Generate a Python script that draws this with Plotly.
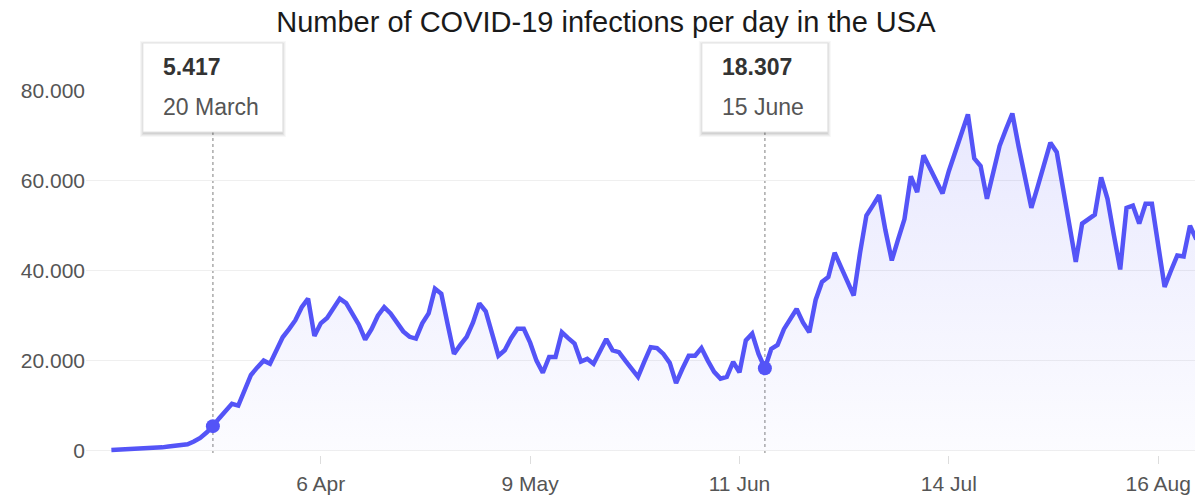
import plotly.graph_objects as go
import pandas as pd

# ---------------- data ----------------
start_date = "2020-03-04"
end_date = "2020-08-22"
cases = [
    # March 4 - 31
    100, 150, 200, 250, 300, 400, 500, 600, 700, 900, 1000, 1100, 1400, 2000,
    2800, 4000, 5417, 7200, 9000, 10400, 10000, 13500, 16800, 18500, 20000,
    19300, 22500, 25200,
    # April
    27000, 29000, 31900, 33800, 25500, 28300, 29500, 31800, 33800, 32800,
    30500, 28000, 24700, 27000, 30000, 31900, 30500, 28300, 26500, 25300,
    24900, 28300, 30500, 36000, 34900, 28100, 21500, 23500, 25300, 28500,
    # May
    32700, 31000, 26000, 21100, 22300, 25000, 27100, 27100, 24000, 20000,
    17300, 20800, 20800, 26300, 25000, 23800, 19800, 20400, 19300, 22000,
    24800, 22300, 21900, 20000, 18000, 16400, 19800, 23000, 22800, 21500,
    19500,
    # June
    15000, 18200, 21100, 21100, 22800, 20000, 17500, 16000, 16400, 19700,
    17400, 24500, 26000, 21500, 18307, 22600, 23500, 27000, 29500, 31500,
    28500, 26300, 33500, 37500, 38600, 44000, 40800, 37600, 34500, 44000,
    # July
    52300, 54500, 56800, 49000, 42300, 47000, 51500, 61000, 57500, 65700,
    63000, 60000, 57200, 62200, 66600, 71000, 74800, 65000, 63300, 56000,
    61500, 67800, 71500, 75000, 67600, 60900, 54000, 58700, 63800, 68500,
    66400,
    # August 1 - 22
    58700, 49700, 42000, 50500, 51500, 52500, 60800, 56000, 48000, 40300,
    54000, 54500, 50500, 54900, 54900, 45600, 36400, 40000, 43400, 43200,
    50000, 47000,
]
tick_dates = ["2020-04-06", "2020-05-09", "2020-06-11", "2020-07-14", "2020-08-16"]
tick_labels = ["6 Apr", "9 May", "11 Jun", "14 Jul", "16 Aug"]
y_ticks = [0, 20000, 40000, 60000, 80000]
y_tick_labels = ["0", "20.000", "40.000", "60.000", "80.000"]
highlight_dates = ["2020-03-20", "2020-06-15"]
title_text = "Number of COVID-19 infections per day in the USA"

# ---------------- figure ----------------
dates = pd.date_range(start_date, end_date, freq="D")
assert len(dates) == len(cases), (len(dates), len(cases))
series = pd.Series(cases, index=dates)

LINE = "#5454f7"
FONT = "Liberation Sans, Arial, sans-serif"

fig = go.Figure()
fig.add_trace(go.Scatter(
    x=dates, y=cases, mode="lines",
    line=dict(color=LINE, width=4.5),
    fill="tozeroy",
    fillgradient=dict(
        type="vertical",
        colorscale=[[0, "rgba(84,84,247,0.02)"], [1, "rgba(84,84,247,0.14)"]],
        start=0, stop=80000,
    ),
    hoverinfo="skip", showlegend=False,
))

hl_x = pd.to_datetime(highlight_dates)
hl_y = [int(series[d]) for d in hl_x]
fig.add_trace(go.Scatter(
    x=hl_x, y=hl_y, mode="markers",
    marker=dict(color=LINE, size=14, line=dict(width=0)),
    hoverinfo="skip", showlegend=False, cliponaxis=False,
))

shapes = []
annotations = []
half_widths = [70, 63]
for d, v, w in zip(hl_x, hl_y, half_widths):
    ds = d.strftime("%Y-%m-%d")
    # dotted guide line (from box bottom down to just below the axis)
    shapes.append(dict(
        type="line", xref="x", x0=ds, x1=ds,
        yref="paper", ysizemode="pixel", yanchor=0, y0=2, y1=323,
        line=dict(color="#aaaaaa", width=1.5, dash="dot"), layer="below",
    ))
    # soft shadow
    for k, a in [(4, 0.03), (3, 0.04), (2, 0.05), (1, 0.06)]:
        shapes.append(dict(
            type="rect", xref="x", xsizemode="pixel", xanchor=ds,
            x0=-w - k + 1, x1=w + k - 1,
            yref="paper", ysizemode="pixel", yanchor=1,
            y0=-41 - k - 1, y1=48 + k - 2,
            fillcolor=f"rgba(0,0,0,{a})", line=dict(width=0), layer="above",
        ))
    # tooltip box
    shapes.append(dict(
        type="rect", xref="x", xsizemode="pixel", xanchor=ds,
        x0=-w, x1=w,
        yref="paper", ysizemode="pixel", yanchor=1, y0=-41, y1=48,
        fillcolor="white", line=dict(color="#e2e2e2", width=1), layer="above",
    ))
    value_txt = f"{v:,}".replace(",", ".")
    date_txt = f"{d.day} {d.strftime('%B')}"
    annotations.append(dict(
        x=ds, xref="x", xanchor="left", xshift=-(w - 18),
        y=1, yref="paper", yanchor="middle", yshift=24,
        text=f"<b>{value_txt}</b>", showarrow=False,
        font=dict(family=FONT, size=23, color="#333333"),
    ))
    annotations.append(dict(
        x=ds, xref="x", xanchor="left", xshift=-(w - 18),
        y=1, yref="paper", yanchor="middle", yshift=-16,
        text=date_txt, showarrow=False,
        font=dict(family=FONT, size=23, color="#555555"),
    ))

fig.update_layout(
    width=1195, height=496,
    margin=dict(l=86, r=0, t=91, b=41),
    paper_bgcolor="white", plot_bgcolor="white",
    font=dict(family=FONT),
    title=dict(
        text=title_text, x=0.507, xanchor="center",
        y=1 - 22 / 496, yanchor="middle", yref="container",
        font=dict(family=FONT, size=29, color="#1a1a1a"),
    ),
    shapes=shapes, annotations=annotations,
    showlegend=False,
)
fig.update_xaxes(
    range=["2020-02-29 00:00", "2020-08-21 19:00"],
    tickvals=tick_dates, ticktext=tick_labels,
    showgrid=False, zeroline=False, showline=False,
    ticks="outside", ticklen=8, tickcolor="#dddddd", tickwidth=1,
    ticklabelstandoff=2,
    tickfont=dict(family=FONT, size=21, color="#555555"),
)
fig.update_yaxes(
    range=[-1000, 80000],
    tickvals=y_ticks, ticktext=y_tick_labels,
    showgrid=True, gridcolor="#efefef", gridwidth=1,
    zeroline=False, showline=False, ticks="",
    tickfont=dict(family=FONT, size=21, color="#555555"),
)

fig.write_html("out.html")
